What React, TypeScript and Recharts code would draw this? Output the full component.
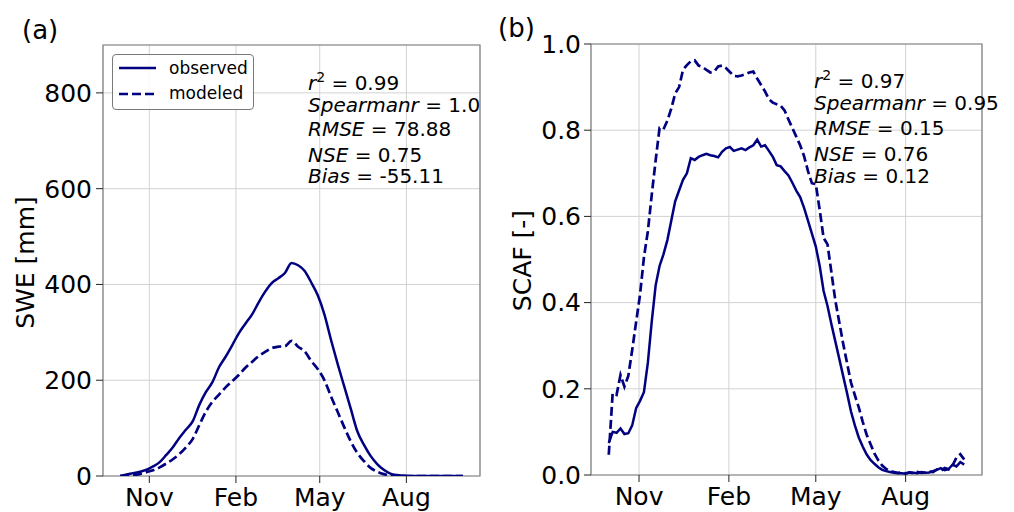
import { LineChart, Line, XAxis, YAxis, CartesianGrid, ReferenceArea } from "recharts";

const FONT = "DejaVu Sans, sans-serif";
const NAVY = "#000080";

// x axis: days since Oct 1, month ticks at the 1st of each month
const monthTicks = [31, 123, 212, 304];
const monthLabels = ["Nov", "Feb", "May", "Aug"];
const xDomain = [-18.2, 382.2];

const sweTicks = [0, 200, 400, 600, 800];
const scafTicks = [0, 0.2, 0.4, 0.6, 0.8, 1.0];

// weekly SWE [mm]
const sweDays = [
  0, 7, 14, 21, 28, 35, 42, 49, 56, 63, 70, 77, 84, 91, 98, 105, 112, 119, 126, 133, 140, 147, 154, 161, 168, 175, 182,
  189, 196, 203, 210, 217, 224, 231, 238, 245, 252, 259, 266, 273, 280, 287, 294, 301, 308, 315, 322, 329, 336, 343,
  350, 357, 364,
];
const sweObserved = [
  0, 3, 6, 9, 13, 20, 29, 44, 60, 80, 97, 114, 148, 175, 196, 227, 249, 273, 298, 318, 337, 362, 385, 403, 413, 424, 445,
  440, 428, 404, 377, 337, 284, 234, 187, 140, 93, 65, 42, 25, 13, 5, 2, 1, 0, 0, 0, 0, 0, 0, 0, 0, 0,
];
const sweModeled = [
  0, 1, 2, 4, 8, 12, 18, 26, 35, 46, 60, 77, 106, 134, 155, 170, 185, 198, 211, 226, 238, 250, 259, 267, 270, 271, 282,
  270, 260, 240, 223, 200, 166, 134, 102, 72, 48, 31, 17, 9, 4, 1, 0.5, 0, 0, 0, 0, 0, 0, 0, 0, 0, 0,
];

// SCAF [-] every 4 days
const scafDays = [
  0, 4, 8, 12, 16, 20, 24, 28, 32, 36, 40, 44, 48, 52, 56, 60, 64, 68, 72, 76, 80, 84, 88, 92, 96, 100, 104, 108, 112,
  116, 120, 124, 128, 132, 136, 140, 144, 148, 152, 156, 160, 164, 168, 172, 176, 180, 184, 188, 192, 196, 200, 204,
  208, 212, 216, 220, 224, 228, 232, 236, 240, 244, 248, 252, 256, 260, 264, 268, 272, 276, 280, 284, 288, 292, 296,
  300, 304, 308, 312, 316, 320, 324, 328, 332, 336, 340, 344, 348, 352, 356, 360, 364,
];
const scafObserved = [
  0.074, 0.1, 0.098, 0.108, 0.095, 0.097, 0.115, 0.155, 0.172, 0.192, 0.26, 0.356, 0.44, 0.485, 0.512, 0.545, 0.59,
  0.635, 0.66, 0.685, 0.7, 0.735, 0.731, 0.738, 0.742, 0.745, 0.742, 0.74, 0.737, 0.75, 0.758, 0.761, 0.752, 0.755,
  0.758, 0.754, 0.76, 0.765, 0.778, 0.762, 0.765, 0.752, 0.738, 0.719, 0.716, 0.705, 0.695, 0.678, 0.66, 0.645, 0.62,
  0.59, 0.56, 0.53, 0.485, 0.427, 0.392, 0.35, 0.31, 0.27, 0.23, 0.19, 0.148, 0.115, 0.087, 0.066, 0.048, 0.035, 0.026,
  0.018, 0.012, 0.009, 0.007, 0.005, 0.004, 0.004, 0.003, 0.006, 0.005, 0.004, 0.007, 0.005, 0.006, 0.009, 0.012,
  0.016, 0.011, 0.014, 0.024, 0.02, 0.03, 0.024,
];
const scafModeled = [
  0.047, 0.19, 0.186, 0.232, 0.205, 0.23, 0.29, 0.355, 0.418, 0.505, 0.565, 0.65, 0.73, 0.805, 0.802, 0.822, 0.85,
  0.885, 0.9, 0.94, 0.951, 0.96, 0.962, 0.95, 0.946, 0.94, 0.934, 0.936, 0.948, 0.95, 0.944, 0.935, 0.926, 0.925,
  0.927, 0.93, 0.934, 0.936, 0.92, 0.905, 0.89, 0.872, 0.864, 0.86, 0.857, 0.846, 0.825, 0.805, 0.785, 0.765, 0.74,
  0.705, 0.677, 0.675, 0.615, 0.55, 0.535, 0.47, 0.405, 0.355, 0.305, 0.26, 0.215, 0.185, 0.157, 0.124, 0.094, 0.072,
  0.05, 0.034, 0.022, 0.014, 0.009, 0.007, 0.005, 0.006, 0.004, 0.006, 0.004, 0.007, 0.005, 0.006, 0.008, 0.007,
  0.013, 0.01, 0.016, 0.013, 0.022, 0.04, 0.048, 0.036,
];

const statNames = ["r", "Spearmanr", "RMSE", "NSE", "Bias"];
const sweStats = ["0.99", "1.0", "78.88", "0.75", "-55.11"];
const scafStats = ["0.97", "0.95", "0.15", "0.76", "0.12"];

const sweData = sweDays.map((day, i) => ({ day, observed: sweObserved[i], modeled: sweModeled[i] }));
const scafData = scafDays.map((day, i) => ({ day, observed: scafObserved[i], modeled: scafModeled[i] }));

const tickStyle = { fontSize: 25, fill: "#000", fontFamily: FONT };
const monthFmt = (v: number) => monthLabels[monthTicks.indexOf(v)] ?? "";

function Stats({ left, baselines, values }: { left: number; baselines: number[]; values: string[] }) {
  return (
    <>
      {statNames.map((name, i) => (
        <div
          key={name}
          style={{
            position: "absolute",
            left,
            top: baselines[i] - 17,
            fontSize: 20,
            lineHeight: "20px",
            fontFamily: FONT,
            whiteSpace: "nowrap",
            color: "#000",
          }}
        >
          <span style={{ fontStyle: "italic" }}>{name}</span>
          {i === 0 && <span style={{ fontSize: 14, lineHeight: 0, verticalAlign: 8 }}>2</span>}
          {" = "}
          {values[i]}
        </div>
      ))}
    </>
  );
}

function YLabel({ text, cx, cy }: { text: string; cx: number; cy: number }) {
  return (
    <div
      style={{
        position: "absolute",
        left: cx - 100,
        top: cy - 12.5,
        width: 200,
        height: 25,
        lineHeight: "25px",
        fontSize: 25,
        fontFamily: FONT,
        textAlign: "center",
        transform: "rotate(-90deg)",
        whiteSpace: "nowrap",
      }}
    >
      {text}
    </div>
  );
}

function Legend() {
  return (
    <div
      style={{
        position: "absolute",
        left: 112,
        top: 54,
        width: 140,
        height: 54,
        border: "1px solid #7a7a7a",
        borderRadius: 4,
        background: "rgba(255,255,255,0.85)",
        fontFamily: FONT,
        fontSize: 17,
      }}
    >
      <svg width={140} height={54} style={{ position: "absolute", left: 0, top: 0 }}>
        <line x1={6} x2={43} y1={13} y2={13} stroke={NAVY} strokeWidth={2.5} />
        <line x1={6} x2={43} y1={39} y2={39} stroke={NAVY} strokeWidth={2.7} strokeDasharray="9 4" />
      </svg>
      <div style={{ position: "absolute", left: 56, top: 3, lineHeight: "20px" }}>observed</div>
      <div style={{ position: "absolute", left: 56, top: 28, lineHeight: "20px" }}>modeled</div>
    </div>
  );
}

export default function App() {
  return (
    <div
      style={{ position: "fixed", left: 0, top: 0, width: 1014, height: 512, background: "#fff", fontFamily: FONT }}
    >
      <div style={{ position: "absolute", left: 0, top: 0 }}>
        <LineChart width={500} height={512} data={sweData} margin={{ top: 45, right: 20, bottom: 6, left: 43 }}>
          <CartesianGrid stroke="#d2d2d2" strokeWidth={1} />
          <XAxis
            dataKey="day"
            type="number"
            domain={xDomain}
            allowDataOverflow
            ticks={monthTicks}
            tickFormatter={monthFmt}
            height={30}
            axisLine={false}
            tickLine={{ stroke: "#222" }}
            tickSize={7}
            tickMargin={5}
            tick={tickStyle}
            interval={0}
          />
          <YAxis
            type="number"
            domain={[0, 900]}
            allowDataOverflow
            ticks={sweTicks}
            width={60}
            axisLine={false}
            tickLine={{ stroke: "#222" }}
            tickSize={7}
            tickMargin={4}
            tick={tickStyle}
            interval={0}
          />
          <Line type="monotone" dataKey="observed" stroke={NAVY} strokeWidth={2.5} dot={false} isAnimationActive={false} />
          <Line
            type="monotone"
            dataKey="modeled"
            stroke={NAVY}
            strokeWidth={2.7}
            strokeDasharray="9 4"
            dot={false}
            isAnimationActive={false}
          />
          <ReferenceArea x1={xDomain[0]} x2={xDomain[1]} y1={0} y2={900} fill="none" stroke="#808080" strokeWidth={1.2} />
        </LineChart>
      </div>

      <div style={{ position: "absolute", left: 500, top: 0 }}>
        <LineChart width={514} height={512} data={scafData} margin={{ top: 44, right: 32, bottom: 7, left: 31 }}>
          <CartesianGrid stroke="#d2d2d2" strokeWidth={1} />
          <XAxis
            dataKey="day"
            type="number"
            domain={xDomain}
            allowDataOverflow
            ticks={monthTicks}
            tickFormatter={monthFmt}
            height={30}
            axisLine={false}
            tickLine={{ stroke: "#222" }}
            tickSize={7}
            tickMargin={5}
            tick={tickStyle}
            interval={0}
          />
          <YAxis
            type="number"
            domain={[0, 1]}
            allowDataOverflow
            ticks={scafTicks}
            tickFormatter={(v: number) => v.toFixed(1)}
            width={60}
            axisLine={false}
            tickLine={{ stroke: "#222" }}
            tickSize={7}
            tickMargin={3}
            tick={tickStyle}
            interval={0}
          />
          <Line type="linear" dataKey="observed" stroke={NAVY} strokeWidth={2.5} dot={false} isAnimationActive={false} />
          <Line
            type="linear"
            dataKey="modeled"
            stroke={NAVY}
            strokeWidth={2.7}
            strokeDasharray="9 4"
            dot={false}
            isAnimationActive={false}
          />
          <ReferenceArea x1={xDomain[0]} x2={xDomain[1]} y1={0} y2={1} fill="none" stroke="#808080" strokeWidth={1.2} />
        </LineChart>
      </div>

      <div style={{ position: "absolute", left: 22, top: 16.5, fontSize: 26, lineHeight: "26px" }}>(a)</div>
      <div style={{ position: "absolute", left: 498, top: 15, fontSize: 26, lineHeight: "26px" }}>(b)</div>

      <YLabel text="SWE [mm]" cx={25.3} cy={262} />
      <YLabel text="SCAF [-]" cx={522.3} cy={260} />

      <Legend />

      <Stats left={308} baselines={[89.5, 111.6, 136, 161.6, 183.3]} values={sweStats} />
      <Stats left={814} baselines={[88, 110, 135, 160.6, 183.3]} values={scafStats} />
    </div>
  );
}
